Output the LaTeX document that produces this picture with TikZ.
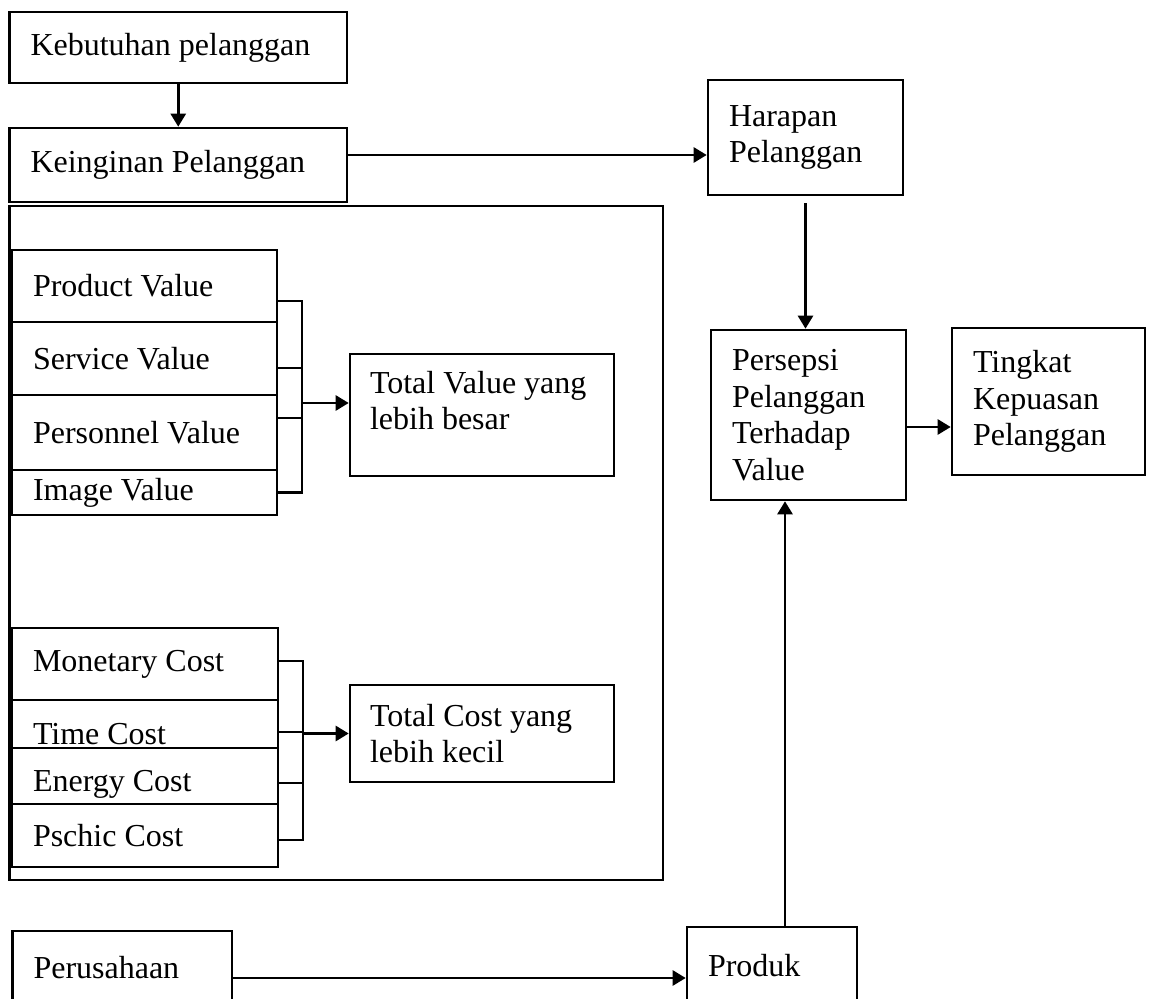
\documentclass[tikz,border=0pt]{standalone}
\usepackage{fontspec}
\setmainfont{Liberation Serif}
\usetikzlibrary{arrows.meta}

\tikzset{
  box/.style 2 args={draw, line width=1.3pt, minimum width=#1, minimum height=#2,
    text width=#1-21pt, inner xsep=10.5pt, inner ysep=0pt, align=flush left,
    font=\fontsize{16}{18.3}\selectfont},
  arr/.style={line width=1.3pt, -{Triangle[length=6.5pt, width=7.5pt]}},
  tick/.style={line width=1.3pt}
}

\begin{document}
\begin{tikzpicture}[x=0.5pt, y=-0.5pt]
    \useasboundingbox (0,0) rectangle (1150,999);

    % customer side
    \node[box={168.75pt}{35.5pt}] (kebutuhan) at (178.25,47.5) {Kebutuhan pelanggan};
    \node[box={168.75pt}{37pt}] (keinginan) at (178.25,165) {Keinginan Pelanggan};
    \node[box={97.5pt}{57.5pt}] (harapan) at (805.5,137.5) {Harapan\\Pelanggan};
    \node[box={97.5pt}{85pt}] (persepsi) at (808.5,415) {Persepsi\\Pelanggan\\Terhadap\\Value};
    \node[box={96.5pt}{73.5pt}] (tingkat) at (1048.5,401.5) {Tingkat\\Kepuasan\\Pelanggan};

    % value / cost frame
    \node[draw, line width=1.3pt, minimum width=326.75pt, minimum height=337pt] (frame) at (336.25,543) {};

    \node[box={132.5pt}{36pt}] (product) at (144.5,286) {Product Value};
    \node[box={132.5pt}{36.5pt}] (service) at (144.5,358.5) {Service Value};
    \node[box={132.5pt}{37.5pt}] (personnel) at (144.5,432.5) {Personnel Value};
    \node[box={132.5pt}{22.5pt}] (image) at (144.5,492.5) {Image Value};
    \node[box={132pt}{61pt}, inner xsep=10pt, text width=112pt, text depth=33pt] (totalvalue) at (482,415) {Total Value yang\\lebih besar};

    \node[box={133pt}{36pt}] (monetary) at (145,664) {Monetary Cost};
    \node[box={133pt}{24pt}, text height=21pt] (time) at (145,724) {Time Cost};
    \node[box={133pt}{28pt}, text height=19pt] (energy) at (145,776) {Energy Cost};
    \node[box={133pt}{31.5pt}] (pschic) at (145,835.5) {Pschic Cost};
    \node[box={132pt}{48.5pt}, inner xsep=10pt, text width=112pt] (totalcost) at (482,733.5) {Total Cost yang\\lebih kecil};

    % company side
    \node[box={109.75pt}{37pt}] (perusahaan) at (122.25,968) {Perusahaan};
    \node[box={85pt}{39pt}] (produk) at (772,966) {Produk};

    % brackets
    \coordinate (vbar) at (302,0);
    \draw[tick] ([yshift=-7.5pt]product.east) -- ([yshift=-7.5pt]product.east -| vbar) -- (image.east -| vbar) -- (image.east);
    \draw[tick] ([yshift=-4.75pt]service.east) -- ([yshift=-4.75pt]service.east -| vbar);
    \draw[tick] ([yshift=7.25pt]personnel.east) -- ([yshift=7.25pt]personnel.east -| vbar);
    \draw[arr] ([yshift=6pt]totalvalue.west -| vbar) -- ([yshift=6pt]totalvalue.west);

    \coordinate (cbar) at (303,0);
    \draw[tick] ([yshift=1.5pt]monetary.east) -- ([yshift=1.5pt]monetary.east -| cbar) -- ([yshift=-2.25pt]pschic.east -| cbar) -- ([yshift=-2.25pt]pschic.east);
    \draw[tick] ([yshift=-4pt]time.east) -- ([yshift=-4pt]time.east -| cbar);
    \draw[tick] ([yshift=-3.5pt]energy.east) -- ([yshift=-3.5pt]energy.east -| cbar);
    \draw[arr] (totalcost.west -| cbar) -- (totalcost.west);

    % main flow
    \draw[arr] (kebutuhan.south) -- (keinginan.north);
    \draw[arr] ([yshift=5pt]keinginan.east) -- ([yshift=5pt]keinginan.east -| harapan.west);
    \draw[arr, shorten <=3.5pt] (harapan.south) -- (harapan.south |- persepsi.north);
    \draw[arr] ([yshift=-6pt]persepsi.east) -- ([yshift=-6pt]persepsi.east -| tingkat.west);
    \draw[arr] ([yshift=-5pt]perusahaan.east) -- ([yshift=-5pt]perusahaan.east -| produk.west);
    \draw[arr] ([xshift=6.5pt]produk.north) -- ([xshift=6.5pt]produk.north |- persepsi.south);
\end{tikzpicture}
\end{document}
